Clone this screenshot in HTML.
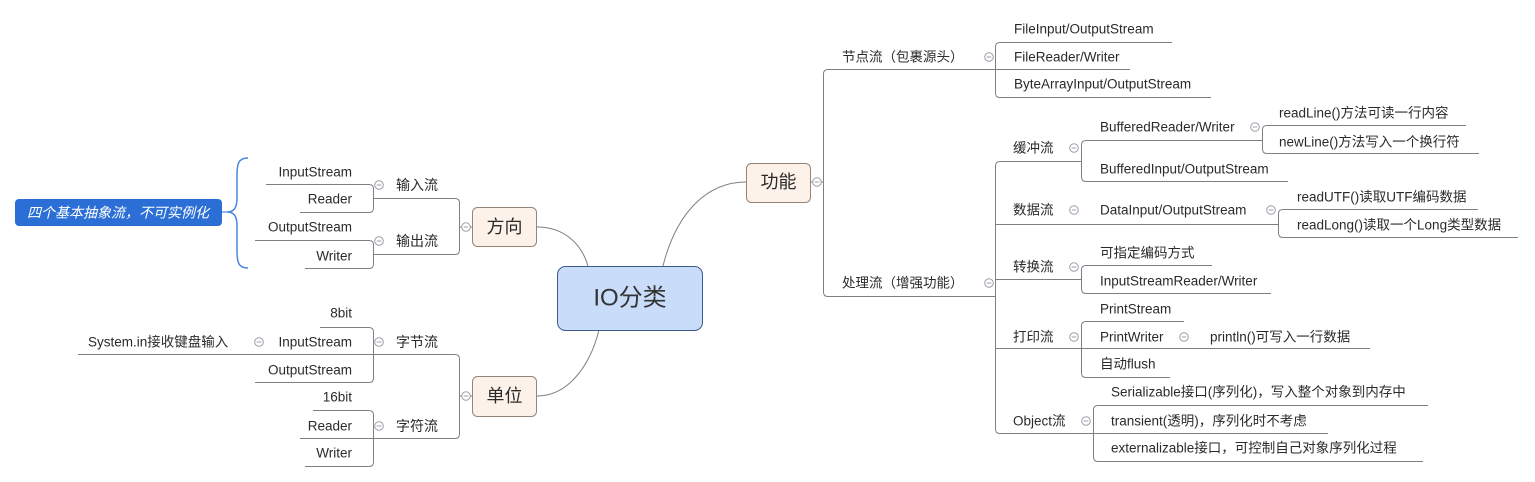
<!DOCTYPE html>
<html><head><meta charset="utf-8"><style>
html,body{margin:0;padding:0;background:#fff;}
svg{display:block;}
text{font-family:"Liberation Sans","Noto Sans CJK SC",sans-serif;font-size:13.5px;fill:#2a2a2a;dominant-baseline:central;}
.l{text-anchor:end;}
.ln{fill:none;stroke:#7f7f7f;stroke-width:1;}
.cc{fill:#fff;stroke:#9aa0aa;stroke-width:1;}
.cm{stroke:#9aa0aa;stroke-width:1;}
.box{fill:#fdf2e9;stroke:#958579;stroke-width:1;}
.bt{font-size:18px;text-anchor:middle;}
</style></head><body>
<svg width="1535" height="482" viewBox="0 0 1535 482" xmlns="http://www.w3.org/2000/svg">
<defs>
<g id="c"><circle cx="0" cy="0" r="4.3" class="cc"/><line x1="-2.3" y1="0" x2="2.3" y2="0" class="cm"/></g>
</defs>

<!-- main curves -->
<path class="ln" d="M537,227 C565,227 582,245 588,266"/>
<path class="ln" d="M663,266 C676,214 706,182 746,182"/>
<path class="ln" d="M599,330 C590,366 568,396 537,396"/>

<!-- center -->
<rect x="557.5" y="266.5" width="145" height="64" rx="8" fill="#c9dcfa" stroke="#3d5a8a" stroke-width="1"/>
<text x="630" y="298" style="font-size:24px;text-anchor:middle;fill:#333">IO分类</text>

<!-- primary boxes -->
<rect class="box" x="472.5" y="207.5" width="64" height="39" rx="5"/>
<text class="bt" x="504.5" y="227">方向</text>
<rect class="box" x="472.5" y="376.5" width="64" height="40" rx="5"/>
<text class="bt" x="504.5" y="396">单位</text>
<rect class="box" x="746.5" y="163.5" width="64" height="39" rx="5"/>
<text class="bt" x="778.5" y="182">功能</text>

<!-- ===== LEFT ===== -->
<!-- 方向 -->
<path class="ln" d="M373,198.5 L455,198.5 Q459.5,198.5 459.5,203 L459.5,250 Q459.5,254.5 455,254.5 L373,254.5"/>
<line class="ln" x1="459.5" y1="227" x2="462" y2="227"/>
<line class="ln" x1="470" y1="227" x2="472" y2="227"/>
<use href="#c" x="466" y="227"/>
<path class="ln" d="M266,184.5 L369,184.5 Q373.5,184.5 373.5,189 L373.5,208 Q373.5,212.5 369,212.5 L300,212.5"/>
<path class="ln" d="M255,240.5 L369,240.5 Q373.5,240.5 373.5,245 L373.5,264 Q373.5,268.5 369,268.5 L305,268.5"/>
<use href="#c" x="379" y="185"/>
<use href="#c" x="379" y="241"/>
<text class="l" x="352" y="172">InputStream</text>
<text class="l" x="352" y="199">Reader</text>
<text class="l" x="352" y="227">OutputStream</text>
<text class="l" x="352" y="256">Writer</text>
<text x="396" y="185" style="font-size:14px">输入流</text>
<text x="396" y="241" style="font-size:14px">输出流</text>

<!-- brace + label -->
<path d="M248,158 C238,158 237,164 237,176 L237,198 C237,208 234,212 227,212 C234,212 237,216 237,226 L237,250 C237,262 238,268 248,268" fill="none" stroke="#4a86e0" stroke-width="1.5"/>
<line x1="222" y1="212" x2="227" y2="212" stroke="#4a86e0" stroke-width="1.2"/>
<rect x="15" y="199" width="207" height="27" rx="4" fill="#2b6fd6"/>
<text x="27" y="212.5" style="font-size:14px;font-style:italic;fill:#fff">四个基本抽象流，不可实例化</text>

<!-- 单位 -->
<path class="ln" d="M78,354.5 L455,354.5 Q459.5,354.5 459.5,359 L459.5,434 Q459.5,438.5 455,438.5 L300,438.5"/>
<line class="ln" x1="459.5" y1="396" x2="462" y2="396"/>
<line class="ln" x1="470" y1="396" x2="472" y2="396"/>
<use href="#c" x="466" y="396"/>
<path class="ln" d="M320,327.5 L369,327.5 Q373.5,327.5 373.5,332 L373.5,378 Q373.5,382.5 369,382.5 L255,382.5"/>
<path class="ln" d="M313,410.5 L369,410.5 Q373.5,410.5 373.5,415 L373.5,462 Q373.5,466.5 369,466.5 L305,466.5"/>
<use href="#c" x="379" y="342"/>
<use href="#c" x="379" y="426"/>
<use href="#c" x="259" y="342"/>
<text class="l" x="352" y="313">8bit</text>
<text class="l" x="352" y="342">InputStream</text>
<text class="l" x="352" y="370">OutputStream</text>
<text class="l" x="352" y="397">16bit</text>
<text class="l" x="352" y="426">Reader</text>
<text class="l" x="352" y="453">Writer</text>
<text x="88" y="342">System.in接收键盘输入</text>
<text x="396" y="342" style="font-size:14px">字节流</text>
<text x="396" y="426" style="font-size:14px">字符流</text>

<!-- ===== RIGHT ===== -->
<line class="ln" x1="810" y1="182" x2="813" y2="182"/>
<line class="ln" x1="821" y1="182" x2="823.5" y2="182"/>
<use href="#c" x="817" y="182"/>
<path class="ln" d="M995,69.5 L828,69.5 Q823.5,69.5 823.5,74 L823.5,292 Q823.5,296.5 828,296.5 L995,296.5"/>

<!-- 节点流 -->
<use href="#c" x="989" y="57"/>
<text x="842" y="57">节点流（包裹源头）</text>
<path class="ln" d="M1172,42.5 L1000,42.5 Q995.5,42.5 995.5,47 L995.5,93 Q995.5,97.5 1000,97.5 L1211,97.5"/>
<line class="ln" x1="995" y1="69.5" x2="1130" y2="69.5"/>
<text x="1014" y="29">FileInput/OutputStream</text>
<text x="1014" y="57">FileReader/Writer</text>
<text x="1014" y="84">ByteArrayInput/OutputStream</text>

<!-- 处理流 -->
<use href="#c" x="989" y="283"/>
<text x="842" y="283">处理流（增强功能）</text>
<path class="ln" d="M1081,161.5 L1000,161.5 Q995.5,161.5 995.5,166 L995.5,429 Q995.5,433.5 1000,433.5 L1093,433.5"/>
<line class="ln" x1="995" y1="224.5" x2="1278" y2="224.5"/>
<line class="ln" x1="995" y1="279.5" x2="1081" y2="279.5"/>
<line class="ln" x1="995" y1="348.5" x2="1370" y2="348.5"/>

<!-- 缓冲流 -->
<text x="1013" y="148">缓冲流</text>
<use href="#c" x="1074" y="148"/>
<path class="ln" d="M1262,140.5 L1086,140.5 Q1081.5,140.5 1081.5,145 L1081.5,177 Q1081.5,181.5 1086,181.5 L1288,181.5"/>
<text x="1100" y="127">BufferedReader/Writer</text>
<use href="#c" x="1255" y="127"/>
<path class="ln" d="M1466,125.5 L1267,125.5 Q1262.5,125.5 1262.5,130 L1262.5,149 Q1262.5,153.5 1267,153.5 L1479,153.5"/>
<text x="1279" y="113">readLine()方法可读一行内容</text>
<text x="1279" y="142">newLine()方法写入一个换行符</text>
<text x="1100" y="169">BufferedInput/OutputStream</text>

<!-- 数据流 -->
<text x="1013" y="210">数据流</text>
<use href="#c" x="1074" y="210"/>
<text x="1100" y="210">DataInput/OutputStream</text>
<use href="#c" x="1271" y="210"/>
<path class="ln" d="M1478,209.5 L1283,209.5 Q1278.5,209.5 1278.5,214 L1278.5,233 Q1278.5,237.5 1283,237.5 L1518,237.5"/>
<text x="1297" y="197">readUTF()读取UTF编码数据</text>
<text x="1297" y="225">readLong()读取一个Long类型数据</text>

<!-- 转换流 -->
<text x="1013" y="267">转换流</text>
<use href="#c" x="1074" y="267"/>
<path class="ln" d="M1212,265.5 L1086,265.5 Q1081.5,265.5 1081.5,270 L1081.5,289 Q1081.5,293.5 1086,293.5 L1271,293.5"/>
<text x="1100" y="253">可指定编码方式</text>
<text x="1100" y="281">InputStreamReader/Writer</text>

<!-- 打印流 -->
<text x="1013" y="337">打印流</text>
<use href="#c" x="1074" y="337"/>
<path class="ln" d="M1184,321.5 L1086,321.5 Q1081.5,321.5 1081.5,326 L1081.5,373 Q1081.5,377.5 1086,377.5 L1170,377.5"/>
<text x="1100" y="309">PrintStream</text>
<text x="1100" y="337">PrintWriter</text>
<use href="#c" x="1184" y="337"/>
<text x="1210" y="337">println()可写入一行数据</text>
<text x="1100" y="364">自动flush</text>

<!-- Object流 -->
<text x="1013" y="421">Object流</text>
<use href="#c" x="1086" y="421"/>
<path class="ln" d="M1428,405.5 L1098,405.5 Q1093.5,405.5 1093.5,410 L1093.5,457 Q1093.5,461.5 1098,461.5 L1423,461.5"/>
<line class="ln" x1="1093" y1="433.5" x2="1328" y2="433.5"/>
<text x="1111" y="392">Serializable接口(序列化)，写入整个对象到内存中</text>
<text x="1111" y="421">transient(透明)，序列化时不考虑</text>
<text x="1111" y="448">externalizable接口，可控制自己对象序列化过程</text>
</svg>
</body></html>
